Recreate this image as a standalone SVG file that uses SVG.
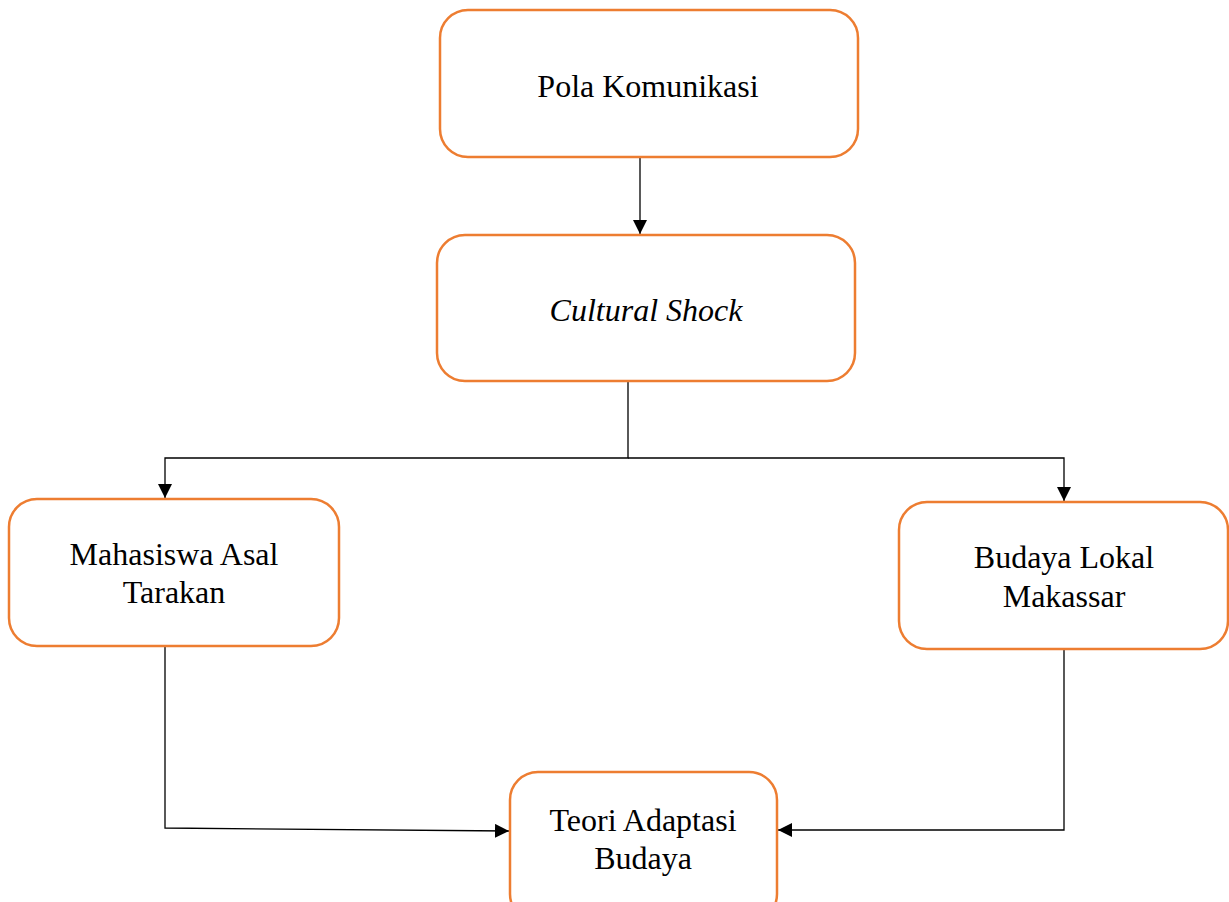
<svg xmlns="http://www.w3.org/2000/svg" width="1229" height="902" viewBox="0 0 1229 902">
<style>
.box{fill:#fff;stroke:#ED7D31;stroke-width:2.5}
.t{font-family:"Liberation Serif",serif;font-size:32px;fill:#000;text-anchor:middle}
.c{fill:none;stroke:#000;stroke-width:1.3}
</style>
<defs>
<marker id="a" markerWidth="14" markerHeight="14" refX="14" refY="7" orient="auto" markerUnits="userSpaceOnUse">
<path d="M0,0 L14,7 L0,14 Z" fill="#000"/>
</marker>
</defs>
<rect width="1229" height="902" fill="#fff"/>
<g id="connectors">
<path class="c" d="M640,157 V234" marker-end="url(#a)"/>
<path class="c" d="M628,381 V458 H165 V498" marker-end="url(#a)"/>
<path class="c" d="M628,458 H1064 V501" marker-end="url(#a)"/>
<path class="c" d="M165,646 V828 L509,831" marker-end="url(#a)"/>
<path class="c" d="M1064,649 V830 H778" marker-end="url(#a)"/>
</g>
<g id="pola"><rect class="box" x="440" y="10" width="418" height="147" rx="28"/><text class="t" x="648" y="97">Pola Komunikasi</text></g>
<g id="shock"><rect class="box" x="437" y="235" width="418" height="146" rx="28"/><text class="t" x="646" y="321" font-style="italic">Cultural Shock</text></g>
<g id="mahasiswa"><rect class="box" x="9" y="499" width="330" height="147" rx="28"/><text class="t" x="174" y="565">Mahasiswa Asal</text><text class="t" x="174" y="603">Tarakan</text></g>
<g id="budaya"><rect class="box" x="899" y="502" width="329" height="147" rx="28"/><text class="t" x="1064" y="568">Budaya Lokal</text><text class="t" x="1064" y="607">Makassar</text></g>
<g id="teori"><rect class="box" x="510" y="772" width="267" height="150" rx="28"/><text class="t" x="643" y="831">Teori Adaptasi</text><text class="t" x="643" y="869">Budaya</text></g>
</svg>
